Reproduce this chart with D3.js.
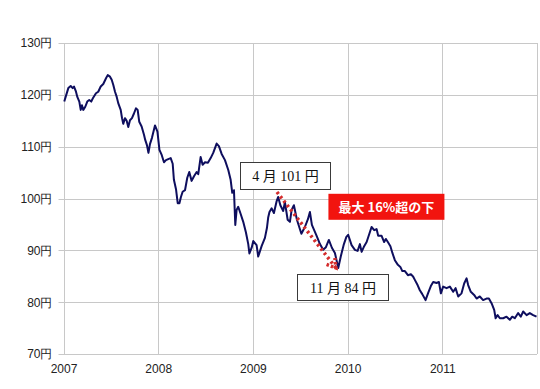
<!DOCTYPE html>
<html>
<head>
<meta charset="utf-8">
<script src="https://cdn.jsdelivr.net/npm/d3@7"></script>
<style>
  body { margin: 0; background: #fff; }
</style>
</head>
<body>
<div id="chart"></div>
<script>
// decimal year of each reading, and the yen rate
const years = [
  2007.008, 2007.026, 2007.051, 2007.076, 2007.097, 2007.111, 2007.132, 2007.146, 2007.167, 2007.182,
  2007.195, 2007.209, 2007.230, 2007.251, 2007.272, 2007.293, 2007.315, 2007.343, 2007.367, 2007.393,
  2007.420, 2007.449, 2007.467, 2007.491, 2007.509, 2007.526, 2007.544, 2007.562, 2007.578, 2007.604,
  2007.618, 2007.631, 2007.649, 2007.667, 2007.684, 2007.702, 2007.723, 2007.744, 2007.765, 2007.783,
  2007.800, 2007.825, 2007.850, 2007.863, 2007.881, 2007.897, 2007.913, 2007.934, 2007.966, 2007.992,
  2008.013, 2008.037, 2008.061, 2008.082, 2008.106, 2008.132, 2008.153, 2008.166, 2008.188, 2008.206,
  2008.224, 2008.240, 2008.258, 2008.283, 2008.307, 2008.328, 2008.353, 2008.378, 2008.406, 2008.423,
  2008.448, 2008.469, 2008.494, 2008.525, 2008.554, 2008.581, 2008.617, 2008.641, 2008.670, 2008.705,
  2008.740, 2008.765, 2008.782, 2008.800, 2008.814, 2008.828, 2008.845, 2008.871, 2008.898, 2008.926,
  2008.951, 2008.963, 2008.987, 2009.004, 2009.039, 2009.056, 2009.092, 2009.127, 2009.148, 2009.162,
  2009.175, 2009.198, 2009.222, 2009.251, 2009.267, 2009.290, 2009.320, 2009.338, 2009.367, 2009.391,
  2009.409, 2009.433, 2009.465, 2009.512, 2009.549, 2009.581, 2009.602, 2009.623, 2009.673, 2009.708,
  2009.742, 2009.771, 2009.802, 2009.834, 2009.866, 2009.901, 2009.929, 2009.961, 2009.987, 2010.006,
  2010.042, 2010.077, 2010.106, 2010.130, 2010.148, 2010.175, 2010.201, 2010.235, 2010.253, 2010.281,
  2010.306, 2010.323, 2010.359, 2010.386, 2010.404, 2010.425, 2010.452, 2010.473, 2010.499, 2010.531,
  2010.557, 2010.578, 2010.605, 2010.637, 2010.668, 2010.693, 2010.710, 2010.739, 2010.763, 2010.787,
  2010.823, 2010.851, 2010.879, 2010.904, 2010.940, 2010.964, 2010.985, 2011.009, 2011.045, 2011.080,
  2011.115, 2011.140, 2011.168, 2011.203, 2011.231, 2011.256, 2011.273, 2011.301, 2011.336, 2011.362,
  2011.396, 2011.431, 2011.467, 2011.492, 2011.520, 2011.548, 2011.563, 2011.584, 2011.608, 2011.643,
  2011.678, 2011.713, 2011.738, 2011.766, 2011.801, 2011.829, 2011.854, 2011.890, 2011.924, 2011.959,
  2011.995
];
const rates = [
  118.7, 119.8, 121.3, 121.7, 121.3, 121.6, 120.6, 119.6, 118.7, 117.1,
  118.0, 117.1, 117.7, 118.7, 119.0, 118.7, 119.5, 120.3, 120.6, 121.6,
  122.1, 123.2, 123.8, 123.5, 122.9, 121.9, 120.6, 119.6, 118.4, 117.1,
  115.5, 114.4, 115.5, 115.0, 113.8, 115.1, 115.5, 116.4, 117.4, 117.1,
  114.8, 113.9, 112.3, 111.3, 110.3, 108.8, 110.5, 111.7, 114.1, 112.9,
  109.4, 108.4, 107.0, 107.4, 107.6, 107.8, 106.7, 103.6, 101.8, 99.1,
  99.1, 100.3, 101.3, 101.6, 104.0, 105.1, 103.4, 104.3, 105.1, 104.7,
  108.0, 106.5, 107.0, 106.9, 107.8, 108.8, 110.6, 110.1, 108.6, 107.4,
  105.5, 103.6, 101.1, 101.6, 94.9, 97.8, 98.4, 97.0, 95.5, 93.5,
  91.2, 89.4, 90.5, 91.8, 91.0, 88.8, 90.8, 92.4, 94.3, 96.4,
  97.4, 98.1, 97.2, 99.5, 100.3, 98.7, 97.6, 99.3, 95.9, 95.5,
  97.8, 98.7, 95.9, 93.2, 94.5, 96.0, 97.4, 94.9, 92.8, 91.2,
  90.1, 90.6, 92.0, 90.5, 89.5, 86.6, 88.9, 91.2, 92.6, 93.0,
  91.0, 90.1, 89.9, 91.2, 89.7, 90.8, 91.6, 93.5, 94.5, 93.9,
  94.1, 92.8, 92.8, 91.6, 92.2, 91.6, 90.8, 89.5, 88.1, 87.2,
  86.8, 86.0, 86.0, 85.2, 85.4, 84.9, 84.3, 83.3, 82.3, 81.6,
  80.4, 81.8, 83.1, 83.9, 83.7, 83.9, 81.7, 83.0, 82.7, 83.0,
  82.0, 82.7, 81.1, 81.7, 83.6, 84.6, 83.3, 82.0, 81.4, 80.7,
  81.1, 80.4, 80.7, 80.7, 79.8, 78.5, 76.9, 77.5, 76.9, 76.9,
  77.2, 76.6, 77.2, 76.9, 77.9, 77.2, 78.2, 77.5, 77.9, 77.5,
  77.2
];
const yearTicks = [2007, 2008, 2009, 2010, 2011];
const yearGrid = [2007, 2008, 2009, 2010, 2011, 2012];
const yenTicks = [70, 80, 90, 100, 110, 120, 130];

// call-out boxes, anchored in data units
const notes = [
  { text: "4 月 101 円", t: 2009.338, v: 104.5, w: 90, h: 27 },
  { text: "11 月 84 円", t: 2009.945, v: 82.9, w: 91, h: 26 }
];
const badge = { text: "最大 16%超の下", t: 2010.41, v: 98.4, w: 116, h: 26 };
const arrowFrom = { t: 2009.254, v: 101.25 };
const arrowTo = { t: 2009.877, v: 86.6 };

const width = 540, height = 389;
const margin = { top: 43, right: 3, bottom: 35, left: 63.5 };

const svg = d3.select("#chart").append("svg")
  .attr("width", width)
  .attr("height", height)
  .style("font-family", "'Liberation Sans', Arial, 'Noto Sans CJK JP', sans-serif");

const x = d3.scaleLinear()
  .domain([2007, 2012])
  .range([margin.left, width - margin.right]);

const y = d3.scaleLinear()
  .domain([70, 130])
  .range([height - margin.bottom, margin.top]);

// grid
svg.append("g")
  .selectAll("line")
  .data(yenTicks)
  .join("line")
  .attr("x1", margin.left - 5)
  .attr("x2", x(2012))
  .attr("y1", d => Math.round(y(d)) + 0.5)
  .attr("y2", d => Math.round(y(d)) + 0.5)
  .attr("stroke", "#c8c8c8");

svg.append("g")
  .selectAll("line")
  .data(yearGrid)
  .join("line")
  .attr("x1", d => Math.round(x(d)) + 0.5)
  .attr("x2", d => Math.round(x(d)) + 0.5)
  .attr("y1", y(130))
  .attr("y2", y(70))
  .attr("stroke", "#c8c8c8");

// axes (labels only, lines come from the grid)
const yAxis = svg.append("g")
  .attr("transform", `translate(${margin.left},0)`)
  .call(d3.axisLeft(y).tickValues(yenTicks).tickSize(0).tickPadding(11).tickFormat(d => d + "円"));
yAxis.select(".domain").remove();
yAxis.selectAll("text").attr("font-size", 12).attr("fill", "#222");

const xAxis = svg.append("g")
  .attr("transform", `translate(0,${y(70)})`)
  .call(d3.axisBottom(x).tickValues(yearTicks).tickSize(0).tickPadding(10).tickFormat(d3.format("d")));
xAxis.select(".domain").remove();
xAxis.selectAll("text").attr("font-size", 12).attr("fill", "#222");

// rate line
const line = d3.line()
  .x((d, i) => x(years[i]))
  .y(d => y(d));

svg.append("path")
  .datum(rates)
  .attr("fill", "none")
  .attr("stroke", "#0e0e5e")
  .attr("stroke-width", 2)
  .attr("stroke-linejoin", "round")
  .attr("d", line);

// dotted red arrow from the April high to the November low
const ax1 = x(arrowFrom.t), ay1 = y(arrowFrom.v);
const ax2 = x(arrowTo.t), ay2 = y(arrowTo.v);
const ang = Math.atan2(ay2 - ay1, ax2 - ax1);
const head = 10, spread = 0.55;

svg.append("line")
  .attr("x1", ax1).attr("y1", ay1)
  .attr("x2", ax2).attr("y2", ay2)
  .attr("stroke", "#d42c2c")
  .attr("stroke-width", 3.5)
  .attr("stroke-dasharray", "2.5,3");

svg.append("path")
  .attr("d", `M${ax2 - head * Math.cos(ang - spread)},${ay2 - head * Math.sin(ang - spread)}
              L${ax2},${ay2}
              L${ax2 - head * Math.cos(ang + spread)},${ay2 - head * Math.sin(ang + spread)}`)
  .attr("fill", "none")
  .attr("stroke", "#d42c2c")
  .attr("stroke-width", 3.5)
  .attr("stroke-dasharray", "2.5,2");

// boxed labels
const box = svg.append("g")
  .selectAll("g")
  .data(notes)
  .join("g")
  .attr("transform", d => `translate(${Math.round(x(d.t) - d.w / 2) + 0.5},${Math.round(y(d.v) - d.h / 2) + 0.5})`);

box.append("rect")
  .attr("width", d => d.w)
  .attr("height", d => d.h)
  .attr("fill", "#fff")
  .attr("stroke", "#3a3a3a");

box.append("text")
  .attr("x", d => d.w / 2)
  .attr("y", d => d.h / 2 + 5)
  .attr("text-anchor", "middle")
  .attr("font-size", 14)
  .style("font-family", "'Liberation Serif', 'DejaVu Serif', 'Noto Sans CJK JP', serif")
  .attr("fill", "#111")
  .text(d => d.text);

const red = svg.append("g")
  .attr("transform", `translate(${x(badge.t) - badge.w / 2},${y(badge.v) - badge.h / 2})`);

red.append("rect")
  .attr("width", badge.w)
  .attr("height", badge.h)
  .attr("fill", "#f2140f");

red.append("text")
  .attr("x", badge.w / 2)
  .attr("y", badge.h / 2 + 5)
  .attr("text-anchor", "middle")
  .attr("font-size", 13)
  .attr("font-weight", "bold")
  .style("font-family", "'Noto Sans CJK JP', sans-serif")
  .attr("fill", "#fff")
  .text(badge.text);
</script>
</body>
</html>
